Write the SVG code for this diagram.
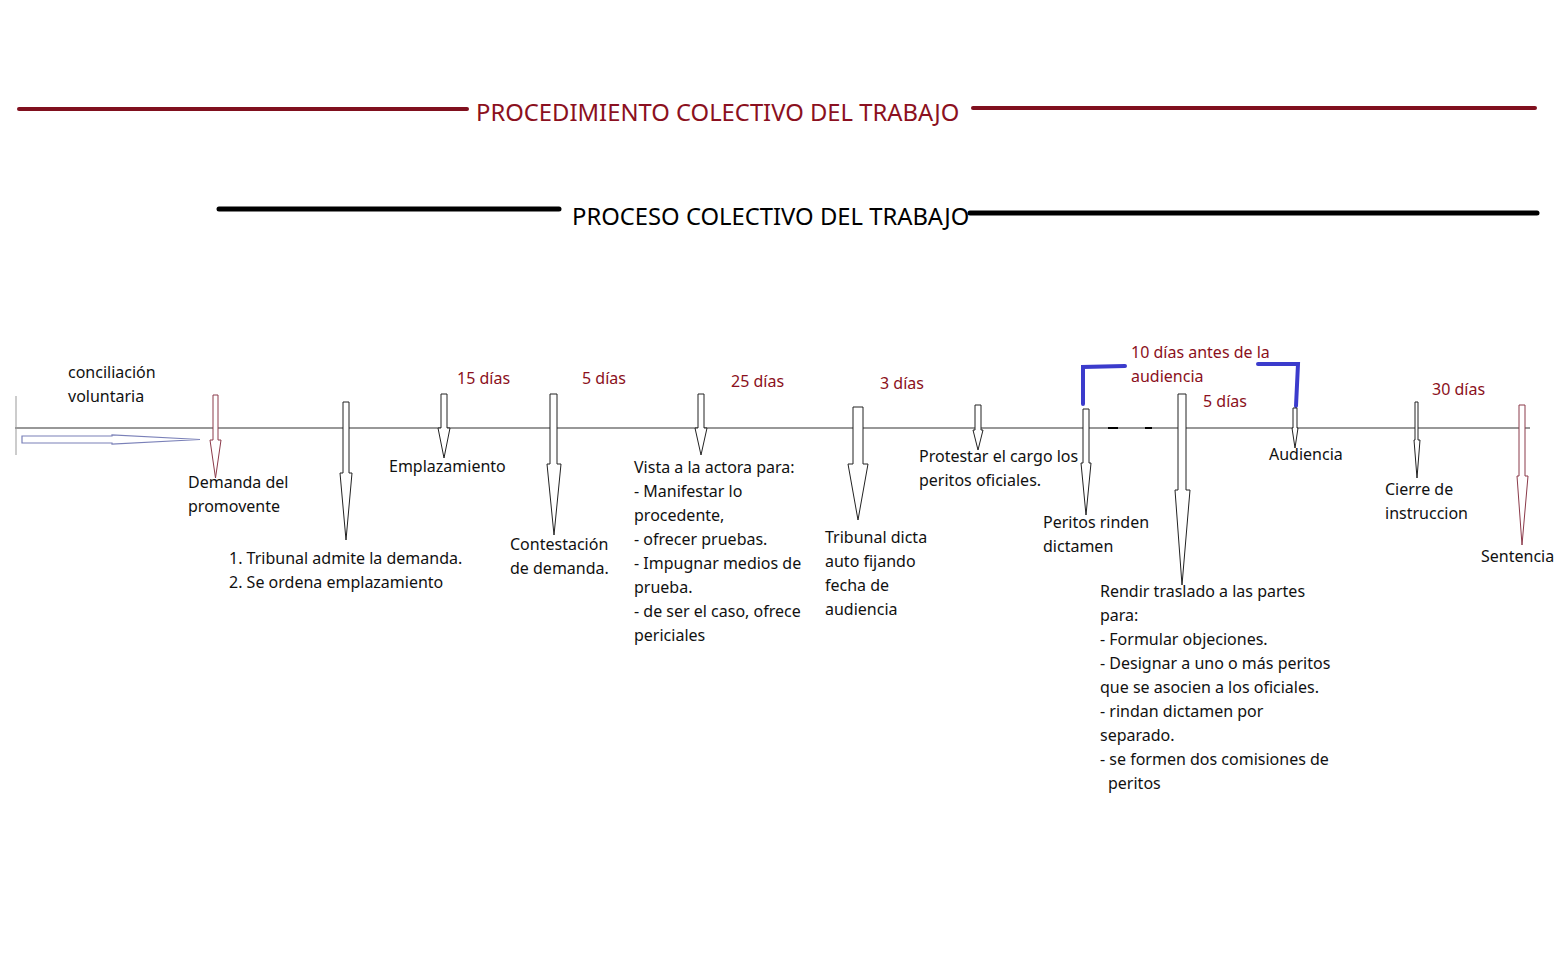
<svg xmlns="http://www.w3.org/2000/svg" width="1567" height="968" viewBox="0 0 1567 968">
<style>
text{font-family:"Noto Sans","Open Sans",sans-serif;font-size:16px;fill:#111}
.r{fill:#8b1020}
.t1{font-size:23.8px;fill:#8b1020}
.t2{font-size:23.8px;fill:#000}
.arw{fill:#fff;stroke:#222;stroke-width:1}
.arm{fill:#fff;stroke:#8b3a4a;stroke-width:1}
.blue{fill:none;stroke:#3b3bcc;stroke-width:4;stroke-linecap:round}
</style>
<rect width="1567" height="968" fill="#fff"/>
<g id="titles">
<line x1="19" y1="109" x2="467" y2="109" stroke="#80101e" stroke-width="4" stroke-linecap="round"/>
<text class="t1" x="476" y="121">PROCEDIMIENTO COLECTIVO DEL TRABAJO</text>
<line x1="973" y1="108" x2="1535" y2="108" stroke="#80101e" stroke-width="4" stroke-linecap="round"/>
<line x1="219" y1="209" x2="559" y2="209" stroke="#000" stroke-width="5" stroke-linecap="round"/>
<text class="t2" x="572" y="225">PROCESO COLECTIVO DEL TRABAJO</text>
<line x1="970" y1="213" x2="1537" y2="213" stroke="#000" stroke-width="5" stroke-linecap="round"/>
</g>
<g id="connectors">
<line x1="15" y1="428" x2="1530" y2="428" stroke="#333" stroke-width="1.2"/>
<line x1="16" y1="396" x2="16" y2="455" stroke="#999" stroke-width="1"/>
<line x1="1108" y1="428" x2="1118" y2="428" stroke="#000" stroke-width="2"/>
<line x1="1145" y1="428" x2="1152" y2="428" stroke="#000" stroke-width="2"/>
<path d="M22,436 H112 V435 L200,439.5 L112,444 V443 H22 Z" fill="#fff" stroke="#7a80b8" stroke-width="1.2"/>
<polyline class="blue" points="1125,366 1083,367 1083,404"/>
<polyline class="blue" points="1258,364 1298,364 1296,406"/>
</g>
<g id="arrow-demanda"><path class="arm" d="M213,395 H218 V440 H221 L215.5,478 L210,440 H213 Z"/></g>
<g id="arrow-tribunal-admite"><path class="arw" d="M343,402 H349 V473 H352 L346,540 L340,473 H343 Z"/></g>
<g id="arrow-emplazamiento"><path class="arw" d="M441,394 H447 V428 H450 L444,458 L438,428 H441 Z"/></g>
<g id="arrow-contestacion"><path class="arw" d="M550,394 H557 V464 H561 L554,535 L547,464 H550 Z"/></g>
<g id="arrow-vista"><path class="arw" d="M698,394 H704 V428 H707 L701,455 L695,428 H698 Z"/></g>
<g id="arrow-tribunal-dicta"><path class="arw" d="M853,407 H863 V464 H868 L858,520 L848,464 H853 Z"/></g>
<g id="arrow-protestar"><path class="arw" d="M975,405 H981 V430 H983 L978,450 L973,430 H975 Z"/></g>
<g id="arrow-peritos"><path class="arw" d="M1083,409 H1089 V463 H1091 L1086,515 L1081,463 H1083 Z"/></g>
<g id="arrow-rendir"><path class="arw" d="M1178,394 H1186 V490 H1190 L1182,585 L1175,490 H1178 Z"/></g>
<g id="arrow-audiencia"><path class="arw" d="M1293,408 H1297 V428 H1298 L1295,448 L1292,428 H1293 Z"/></g>
<g id="arrow-cierre"><path class="arw" d="M1415,402 H1418 V440 H1420 L1417,478 L1414,440 H1415 Z"/></g>
<g id="arrow-sentencia"><path class="arm" d="M1519,405 H1525 V476 H1528 L1522,545 L1517,476 H1519 Z"/></g>
<g id="labels">
<text x="68" y="378">conciliación</text>
<text x="68" y="402">voluntaria</text>
<text x="188" y="488">Demanda del</text>
<text x="188" y="512">promovente</text>
<text x="229" y="564">1. Tribunal admite la demanda.</text>
<text x="229" y="588">2. Se ordena emplazamiento</text>
<text x="389" y="472">Emplazamiento</text>
<text x="510" y="550">Contestación</text>
<text x="510" y="574">de demanda.</text>
<text x="634" y="473">Vista a la actora para:</text>
<text x="634" y="497">- Manifestar lo</text>
<text x="634" y="521">procedente,</text>
<text x="634" y="545">- ofrecer pruebas.</text>
<text x="634" y="569">- Impugnar medios de</text>
<text x="634" y="593">prueba.</text>
<text x="634" y="617">- de ser el caso, ofrece</text>
<text x="634" y="641">periciales</text>
<text x="825" y="543">Tribunal dicta</text>
<text x="825" y="567">auto fijando</text>
<text x="825" y="591">fecha de</text>
<text x="825" y="615">audiencia</text>
<text x="919" y="462">Protestar el cargo los</text>
<text x="919" y="486">peritos oficiales.</text>
<text x="1043" y="528">Peritos rinden</text>
<text x="1043" y="552">dictamen</text>
<text x="1100" y="597">Rendir traslado a las partes</text>
<text x="1100" y="621">para:</text>
<text x="1100" y="645">- Formular objeciones.</text>
<text x="1100" y="669">- Designar a uno o más peritos</text>
<text x="1100" y="693">que se asocien a los oficiales.</text>
<text x="1100" y="717">- rindan dictamen por</text>
<text x="1100" y="741">separado.</text>
<text x="1100" y="765">- se formen dos comisiones de</text>
<text x="1108" y="789">peritos</text>
<text x="1269" y="460">Audiencia</text>
<text x="1385" y="495">Cierre de</text>
<text x="1385" y="519">instruccion</text>
<text x="1481" y="562">Sentencia</text>
</g>
<g id="durations">
<text class="r" x="457" y="384">15 días</text>
<text class="r" x="582" y="384">5 días</text>
<text class="r" x="731" y="387">25 días</text>
<text class="r" x="880" y="389">3 días</text>
<text class="r" x="1131" y="358">10 días antes de la</text>
<text class="r" x="1131" y="382">audiencia</text>
<text class="r" x="1203" y="407">5 días</text>
<text class="r" x="1432" y="395">30 días</text>
</g>
</svg>
